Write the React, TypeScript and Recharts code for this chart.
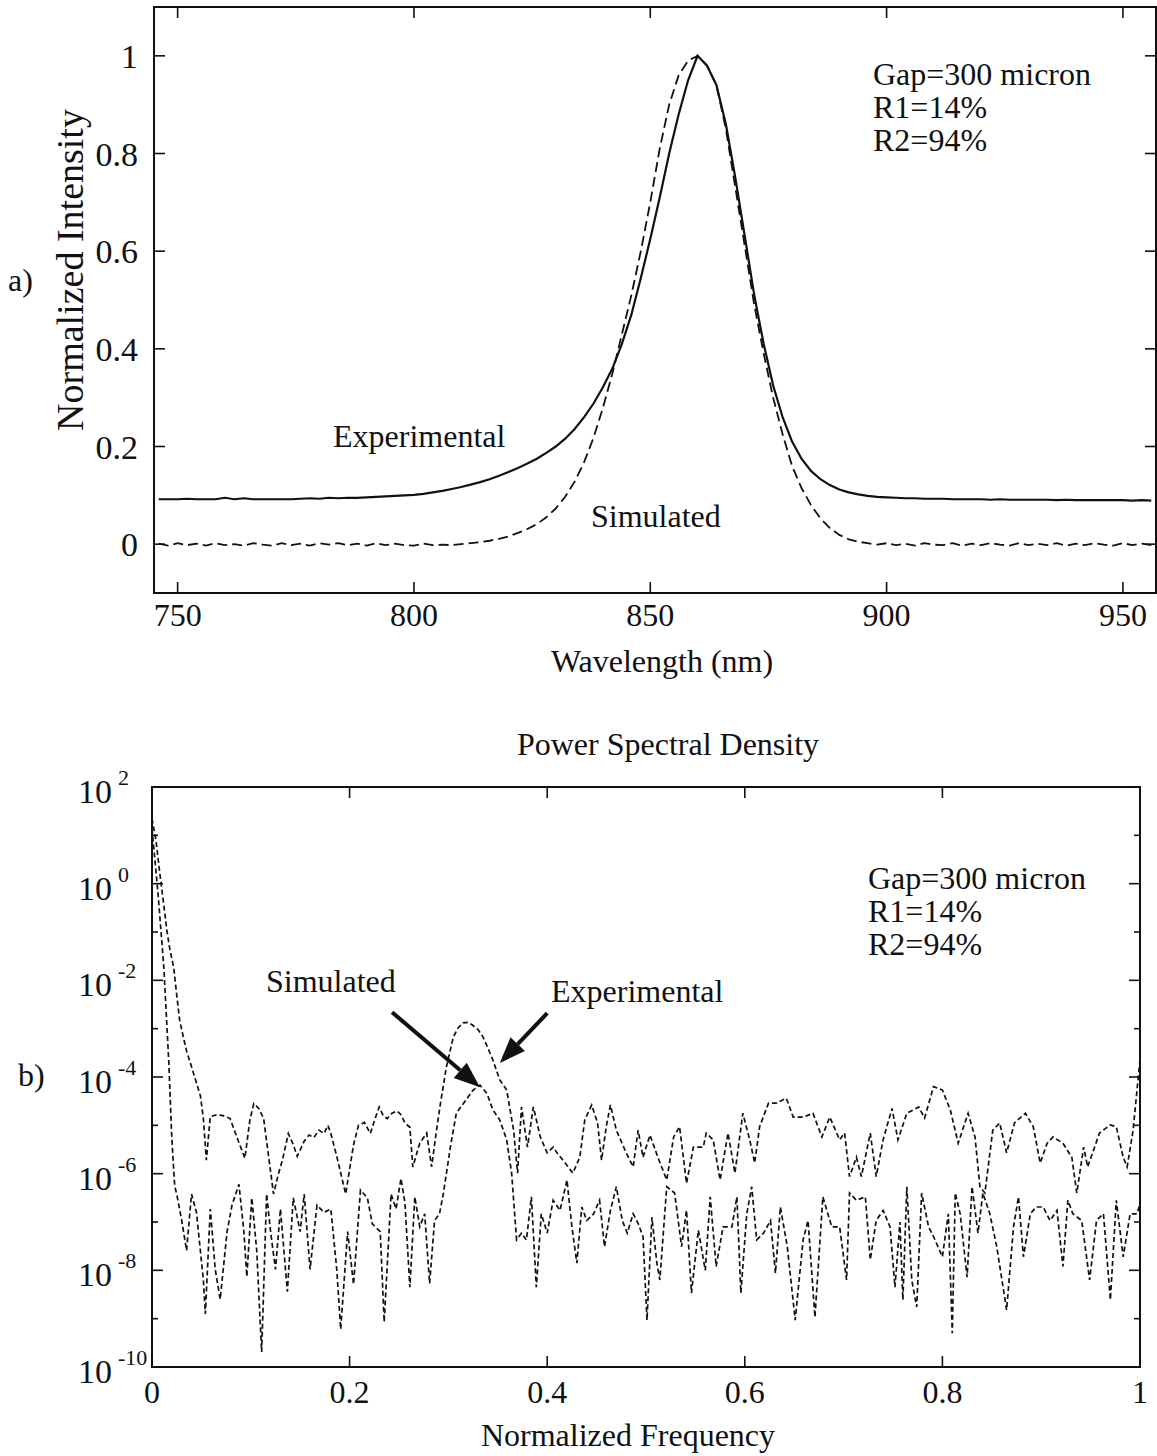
import { LineChart, Line, XAxis, YAxis, ReferenceArea, ReferenceLine } from 'recharts';

const FONT = '"Liberation Serif", "Times New Roman", serif';
const INK = '#111';

// ---------- a) spectra, wavelength in nm, 2 nm steps from 746 ----------
const WAVELENGTH = Array.from({ length: 106 }, (_, i) => 746 + 2 * i);
const EXP_INTENSITY = [
  0.092, 0.092, 0.092, 0.093, 0.092, 0.092, 0.092, 0.095, 0.092, 0.094,
  0.092, 0.092, 0.092, 0.092, 0.092, 0.093, 0.094, 0.093, 0.095, 0.094,
  0.095, 0.095, 0.096, 0.097, 0.098, 0.099, 0.1, 0.101,
  0.103, 0.106, 0.109, 0.113, 0.117, 0.122, 0.127, 0.133, 0.14, 0.148,
  0.156, 0.165, 0.175, 0.187, 0.2, 0.216, 0.236, 0.26, 0.288, 0.322,
  0.36, 0.41, 0.47, 0.545, 0.625, 0.71, 0.8, 0.88, 0.95, 1.0,
  0.98, 0.94, 0.86, 0.75, 0.63, 0.51, 0.41, 0.325, 0.26, 0.21,
  0.175, 0.15, 0.133, 0.121, 0.112, 0.106, 0.102, 0.099, 0.097, 0.096,
  0.095, 0.094, 0.094, 0.093, 0.093, 0.093, 0.092, 0.092, 0.092, 0.092,
  0.091, 0.092, 0.091, 0.091, 0.091, 0.091, 0.091, 0.09, 0.091, 0.09,
  0.09, 0.09, 0.09, 0.09, 0.09, 0.089, 0.09, 0.089,
];
const SIM_INTENSITY = [
  0.001, -0.003, 0.002, -0.002, 0.001, -0.003, 0.002, -0.002, 0.0, -0.003,
  0.002, -0.001, -0.003, 0.002, -0.002, 0.001, -0.003, 0.002, -0.001, 0.002,
  -0.002, 0.001, -0.003, 0.002, -0.002, 0.001, -0.002, -0.003,
  0.001, -0.002, -0.001, -0.002, 0.0, 0.002, 0.004, 0.007, 0.011, 0.016,
  0.023, 0.031, 0.041, 0.055, 0.073, 0.097, 0.128, 0.168, 0.218, 0.28,
  0.35, 0.43, 0.51, 0.6, 0.7, 0.81, 0.9, 0.96, 0.99, 1.0,
  0.98, 0.94, 0.85, 0.73, 0.61, 0.49, 0.39, 0.3, 0.225, 0.16,
  0.115, 0.08, 0.053, 0.033, 0.019, 0.01, 0.005, 0.002, -0.001, 0.002,
  -0.002, 0.001, -0.003, 0.002, -0.001, -0.002, 0.002, -0.003, 0.001, -0.002,
  0.002, -0.001, -0.003, 0.002, -0.002, 0.001, -0.002, 0.002, -0.003, 0.001,
  -0.002, 0.002, -0.001, -0.003, 0.002, -0.002, 0.001, -0.002,
];
const WL_TICKS = [750, 800, 850, 900, 950];
const INT_TICKS = [0, 0.2, 0.4, 0.6, 0.8, 1];

// ---------- b) power spectral density, stored as log10 ----------
const EXP_FREQ = [
  0, 0.004, 0.008, 0.012, 0.015, 0.018, 0.022, 0.025, 0.028, 0.032,
  0.035, 0.042, 0.049, 0.052, 0.055, 0.059, 0.066, 0.072, 0.079, 0.086,
  0.094, 0.099, 0.103, 0.108, 0.113, 0.118, 0.123, 0.128, 0.132, 0.138,
  0.143, 0.147, 0.154, 0.159, 0.164, 0.169, 0.174, 0.178, 0.181, 0.187,
  0.196, 0.204, 0.209, 0.215, 0.221, 0.226, 0.23, 0.234, 0.238, 0.243,
  0.248, 0.252, 0.256, 0.261, 0.264, 0.271, 0.278, 0.283, 0.288, 0.292,
  0.298, 0.305, 0.31, 0.315, 0.32, 0.324, 0.33, 0.335, 0.34, 0.345,
  0.352, 0.359, 0.366, 0.37, 0.374, 0.38, 0.386, 0.393, 0.4, 0.406,
  0.411, 0.416, 0.426, 0.433, 0.438, 0.445, 0.451, 0.455, 0.46, 0.464,
  0.47, 0.48, 0.487, 0.492, 0.497, 0.504, 0.512, 0.521, 0.528, 0.534,
  0.541, 0.548, 0.558, 0.561, 0.568, 0.575, 0.583, 0.59, 0.598, 0.605,
  0.61, 0.615, 0.624, 0.632, 0.642, 0.649, 0.659, 0.669, 0.678, 0.686,
  0.696, 0.701, 0.706, 0.713, 0.718, 0.727, 0.733, 0.74, 0.749, 0.755,
  0.764, 0.776, 0.782, 0.791, 0.8, 0.808, 0.816, 0.826, 0.833, 0.838,
  0.843, 0.851, 0.858, 0.865, 0.873, 0.884, 0.892, 0.899, 0.906, 0.912,
  0.922, 0.931, 0.936, 0.943, 0.947, 0.959, 0.97, 0.976, 0.983, 0.987,
  0.993, 0.998, 1,
];
const EXP_LOG_PSD = [
  1.35, 0.9, 0.2, -0.45, -0.96, -1.35, -1.74, -2.3, -2.83, -3.2,
  -3.46, -3.92, -4.39, -4.86, -5.72, -4.82, -4.78, -4.8, -4.86, -5.25,
  -5.68, -4.9, -4.55, -4.65, -4.86, -5.64, -6.42, -6.0, -5.72, -5.17,
  -5.4, -5.64, -5.33, -5.2, -5.25, -5.1, -5.17, -5.0, -5.17, -5.64,
  -6.42, -5.4, -5.0, -4.94, -5.17, -4.85, -4.62, -4.8, -4.86, -4.75,
  -4.7, -4.78, -4.95, -5.04, -5.86, -5.37, -5.16, -5.86, -5.1, -4.54,
  -3.79, -3.17, -2.98, -2.88, -2.87, -2.92, -3.02, -3.17, -3.4, -3.65,
  -4.06, -4.27, -5.1, -5.99, -4.62, -5.45, -4.62, -5.24, -5.57, -5.45,
  -5.6, -5.72, -5.99, -5.66, -4.89, -4.58, -4.95, -5.72, -5.0, -4.58,
  -5.1, -5.57, -5.86, -5.1, -5.66, -5.2, -5.66, -6.13, -5.24, -5.03,
  -6.2, -5.45, -5.45, -5.16, -5.3, -6.13, -5.16, -5.99, -4.75, -5.3,
  -5.78, -5.03, -4.54, -4.54, -4.44, -4.83, -4.83, -4.75, -5.24, -4.83,
  -5.3, -5.16, -6.06, -5.66, -6.06, -5.16, -6.06, -5.3, -4.65, -5.3,
  -4.75, -4.62, -4.85, -4.2, -4.27, -4.68, -5.37, -4.75, -5.24, -6.27,
  -6.4, -5.1, -4.95, -5.57, -4.95, -4.75, -5.03, -5.78, -5.37, -5.24,
  -5.37, -5.66, -6.4, -5.45, -5.86, -5.16, -4.99, -5.03, -5.66, -5.86,
  -5.1, -4.06, -3.65,
];
const SIM_FREQ = [
  0, 0.006, 0.012, 0.017, 0.02, 0.023, 0.025, 0.03, 0.035, 0.04,
  0.045, 0.052, 0.054, 0.059, 0.064, 0.069, 0.076, 0.081, 0.088, 0.093,
  0.096, 0.101, 0.106, 0.111, 0.116, 0.12, 0.125, 0.13, 0.137, 0.143,
  0.15, 0.154, 0.16, 0.167, 0.174, 0.181, 0.187, 0.191, 0.198, 0.204,
  0.211, 0.218, 0.223, 0.231, 0.235, 0.242, 0.247, 0.252, 0.256, 0.261,
  0.266, 0.271, 0.276, 0.281, 0.286, 0.291, 0.295, 0.302, 0.308, 0.318,
  0.325, 0.332, 0.339, 0.345, 0.352, 0.359, 0.364, 0.369, 0.374, 0.379,
  0.384, 0.389, 0.394, 0.4, 0.406, 0.413, 0.42, 0.425, 0.43, 0.435,
  0.44, 0.447, 0.453, 0.458, 0.464, 0.47, 0.476, 0.481, 0.487, 0.492,
  0.497, 0.501, 0.506, 0.511, 0.514, 0.521, 0.529, 0.536, 0.541, 0.546,
  0.553, 0.56, 0.565, 0.571, 0.578, 0.587, 0.592, 0.596, 0.602, 0.607,
  0.612, 0.619, 0.626, 0.631, 0.636, 0.643, 0.651, 0.659, 0.664, 0.671,
  0.679, 0.688, 0.696, 0.703, 0.706, 0.713, 0.722, 0.727, 0.733, 0.74,
  0.747, 0.752, 0.757, 0.76, 0.764, 0.769, 0.774, 0.779, 0.786, 0.791,
  0.8, 0.806, 0.81, 0.813, 0.818, 0.825, 0.83, 0.836, 0.841, 0.848,
  0.855, 0.865, 0.872, 0.877, 0.882, 0.889, 0.895, 0.902, 0.909, 0.916,
  0.922, 0.927, 0.932, 0.941, 0.949, 0.956, 0.963, 0.97, 0.976, 0.983,
  0.99, 0.997, 1,
];
const SIM_LOG_PSD = [
  1.14, -0.18, -1.74, -3.69, -5.25, -6.26, -6.42, -6.96, -7.59, -6.42,
  -6.8, -8.2, -8.9, -6.73, -7.98, -8.6, -7.2, -6.65, -6.22, -7.2,
  -8.13, -6.5, -7.59, -9.69, -6.42, -7.2, -7.98, -6.73, -8.44, -6.5,
  -7.2, -6.42, -7.98, -6.65, -6.8, -6.73, -7.98, -9.22, -7.2, -8.29,
  -6.34, -6.5, -7.04, -7.2, -9.07, -6.42, -6.73, -6.1, -6.6, -8.35,
  -6.48, -7.1, -6.83, -8.27, -6.97, -6.83, -6.4, -5.45, -4.75, -4.47,
  -4.27, -4.17, -4.34, -4.68, -4.89, -5.3, -5.99, -7.37, -7.23, -7.37,
  -6.48, -8.35, -6.83, -7.23, -6.55, -6.76, -6.13, -7.1, -7.85, -6.69,
  -6.97, -6.83, -6.55, -7.51, -6.76, -6.27, -6.97, -7.23, -6.83, -7.03,
  -7.3, -9.03, -6.9, -7.85, -8.2, -6.27, -6.4, -7.51, -6.76, -8.47,
  -7.17, -8.0, -6.48, -7.92, -7.1, -7.1, -6.48, -8.47, -6.83, -6.27,
  -7.37, -7.23, -6.97, -8.06, -6.69, -7.51, -9.03, -7.37, -6.97, -8.97,
  -6.48, -7.1, -7.1, -8.2, -6.4, -6.55, -6.48, -7.78, -6.97, -6.76,
  -7.1, -8.35, -7.0, -8.61, -6.27, -8.2, -8.76, -6.4, -7.1, -7.3,
  -7.72, -6.83, -9.3, -6.4, -6.83, -8.14, -6.27, -7.23, -6.4, -6.83,
  -7.51, -8.82, -7.1, -6.48, -7.72, -6.83, -6.69, -6.69, -6.97, -6.76,
  -7.92, -6.55, -6.83, -6.97, -8.2, -6.97, -6.83, -8.61, -6.55, -7.72,
  -6.83, -6.83, -6.62,
];
const FREQ_TICKS = [0, 0.2, 0.4, 0.6, 0.8, 1];
const DECADES = [-10, -9, -8, -7, -6, -5, -4, -3, -2, -1, 0, 1, 2];
const PARAMS = ['Gap=300 micron', 'R1=14%', 'R2=94%'];

// plot boxes (chart-local px)
const A = { w: 1157, h: 700, left: 154, top: 7, right: 1156, bottom: 593 };
const B = { y0: 720, w: 1157, h: 736, left: 152, top: 67, right: 1140, bottom: 647 };
const AXIS_W = 60;
const AXIS_H = 40;

const spectra = WAVELENGTH.map((w, i) => ({ w, exp: EXP_INTENSITY[i], sim: SIM_INTENSITY[i] }));
const psdExp = EXP_FREQ.map((f, i) => ({ f, e: EXP_LOG_PSD[i] }));
const psdSim = SIM_FREQ.map((f, i) => ({ f, e: SIM_LOG_PSD[i] }));

const makeXTick = (plotTop: number, labelDy: number) => (p: any) => {
  const { x, y, payload } = p;
  return (
    <g>
      <line x1={x} x2={x} y1={y} y2={y - 11} stroke={INK} strokeWidth={1.6} />
      <line x1={x} x2={x} y1={plotTop} y2={plotTop + 11} stroke={INK} strokeWidth={1.6} />
      <text x={x} y={y + labelDy} textAnchor="middle" fontFamily={FONT} fontSize={32} fill={INK}>
        {String(payload.value)}
      </text>
    </g>
  );
};

const IntensityTick = (p: any) => {
  const { x, y, payload } = p;
  return (
    <g>
      <line x1={x} x2={x + 11} y1={y} y2={y} stroke={INK} strokeWidth={1.6} />
      <line x1={A.right - 11} x2={A.right} y1={y} y2={y} stroke={INK} strokeWidth={1.6} />
      <text x={x - 16} y={y + 12} textAnchor="end" fontFamily={FONT} fontSize={34} fill={INK}>
        {String(payload.value)}
      </text>
    </g>
  );
};

const DecadeTick = (p: any) => {
  const { x, y, payload } = p;
  const v = payload.value as number;
  const major = v % 2 === 0;
  const len = major ? 11 : 6;
  return (
    <g>
      <line x1={x} x2={x + len} y1={y} y2={y} stroke={INK} strokeWidth={1.6} />
      <line x1={B.right - len} x2={B.right} y1={y} y2={y} stroke={INK} strokeWidth={1.6} />
      {major && (
        <text x={x - 74} y={y + 16} textAnchor="start" fontFamily={FONT} fontSize={34} fill={INK}>
          <tspan>10</tspan>
          <tspan dx={6} dy={-18} fontSize={22}>{String(v)}</tspan>
        </text>
      )}
    </g>
  );
};

const ArrowShape = (p: any) => {
  const { x1, y1, x2, y2 } = p;
  const a = Math.atan2(y2 - y1, x2 - x1);
  const L = 26;
  const W = 10;
  const bx = x2 - L * Math.cos(a);
  const by = y2 - L * Math.sin(a);
  const pts = `${x2},${y2} ${bx + W * Math.sin(a)},${by - W * Math.cos(a)} ${bx - W * Math.sin(a)},${by + W * Math.cos(a)}`;
  return (
    <g>
      <line x1={x1} y1={y1} x2={bx} y2={by} stroke={INK} strokeWidth={4} />
      <polygon points={pts} fill={INK} />
    </g>
  );
};

function Txt({ x, y, children, center, size = 32 }: any) {
  return (
    <div
      style={{
        position: 'absolute',
        left: x,
        top: y - size * 0.5,
        fontSize: size,
        lineHeight: 0.9,
        whiteSpace: 'nowrap',
        color: INK,
        transform: center ? 'translateX(-50%)' : undefined,
      }}
    >
      {children}
    </div>
  );
}

function ParamBlock({ x, top, lh }: any) {
  return (
    <div style={{ position: 'absolute', left: x, top, fontSize: 32, lineHeight: `${lh}px`, whiteSpace: 'nowrap', color: INK }}>
      {PARAMS.map((t, i) => (
        <span key={i}>
          {t}
          {i < PARAMS.length - 1 && <br />}
        </span>
      ))}
    </div>
  );
}

export default function App() {
  return (
    <div style={{ position: 'absolute', left: 0, top: 0, width: 1157, height: 1456, background: '#fff', fontFamily: FONT }}>
      <div style={{ position: 'absolute', left: 0, top: 0 }}>
        <LineChart
          width={A.w}
          height={A.h}
          data={spectra}
          margin={{ top: A.top, left: A.left - AXIS_W, right: A.w - A.right, bottom: A.h - A.bottom - AXIS_H }}
        >
          <XAxis
            dataKey="w"
            type="number"
            domain={[745, 957]}
            ticks={WL_TICKS}
            interval={0}
            allowDataOverflow
            height={AXIS_H}
            tickSize={0}
            tickMargin={0}
            axisLine={false}
            tickLine={false}
            tick={makeXTick(A.top, 33)}
          />
          <YAxis
            type="number"
            domain={[-0.1, 1.1]}
            ticks={INT_TICKS}
            interval={0}
            allowDataOverflow
            width={AXIS_W}
            tickSize={0}
            tickMargin={0}
            axisLine={false}
            tickLine={false}
            tick={IntensityTick}
          />
          <ReferenceArea x1={745} x2={957} y1={-0.1} y2={1.1} fill="none" fillOpacity={0} stroke={INK} strokeWidth={2} ifOverflow="visible" />
          <Line type="linear" dataKey="exp" stroke={INK} strokeWidth={2.2} dot={false} isAnimationActive={false} />
          <Line type="linear" dataKey="sim" stroke={INK} strokeWidth={1.8} strokeDasharray="10 5" dot={false} isAnimationActive={false} />
        </LineChart>
      </div>

      <div style={{ position: 'absolute', left: 0, top: B.y0 }}>
        <LineChart
          width={B.w}
          height={B.h}
          margin={{ top: B.top, left: B.left - AXIS_W, right: B.w - B.right, bottom: B.h - B.bottom - AXIS_H }}
        >
          <XAxis
            dataKey="f"
            type="number"
            domain={[0, 1]}
            ticks={FREQ_TICKS}
            interval={0}
            allowDataOverflow
            height={AXIS_H}
            tickSize={0}
            tickMargin={0}
            axisLine={false}
            tickLine={false}
            tick={makeXTick(B.top, 36)}
          />
          <YAxis
            type="number"
            domain={[-10, 2]}
            ticks={DECADES}
            interval={0}
            allowDataOverflow
            width={AXIS_W}
            tickSize={0}
            tickMargin={0}
            axisLine={false}
            tickLine={false}
            tick={DecadeTick}
          />
          <ReferenceArea x1={0} x2={1} y1={-10} y2={2} fill="none" fillOpacity={0} stroke={INK} strokeWidth={2} ifOverflow="visible" />
          <Line data={psdExp} type="linear" dataKey="e" stroke={INK} strokeWidth={1.7} strokeDasharray="5 3" dot={false} isAnimationActive={false} />
          <Line data={psdSim} type="linear" dataKey="e" stroke={INK} strokeWidth={1.7} strokeDasharray="5 3" dot={false} isAnimationActive={false} />
          <ReferenceLine segment={[{ x: 0.243, y: -2.66 }, { x: 0.332, y: -4.21 }]} shape={ArrowShape} />
          <ReferenceLine segment={[{ x: 0.4, y: -2.68 }, { x: 0.352, y: -3.71 }]} shape={ArrowShape} />
        </LineChart>
      </div>

      {/* panel a) text */}
      <Txt x={8} y={282}>a)</Txt>
      <div
        style={{
          position: 'absolute',
          left: 70,
          top: 270,
          fontSize: 38,
          lineHeight: 1,
          whiteSpace: 'nowrap',
          color: INK,
          transform: 'translate(-50%, -50%) rotate(-90deg)',
        }}
      >
        Normalized Intensity
      </div>
      <Txt x={662} y={663} center>Wavelength (nm)</Txt>
      <ParamBlock x={873} top={58} lh={33} />
      <Txt x={333} y={438}>Experimental</Txt>
      <Txt x={591} y={518}>Simulated</Txt>

      {/* panel b) text */}
      <Txt x={18} y={1077}>b)</Txt>
      <Txt x={668} y={746} center>Power Spectral Density</Txt>
      <Txt x={628} y={1437} center>Normalized Frequency</Txt>
      <ParamBlock x={868} top={862} lh={33} />
      <Txt x={266} y={983}>Simulated</Txt>
      <Txt x={551} y={993}>Experimental</Txt>
    </div>
  );
}
